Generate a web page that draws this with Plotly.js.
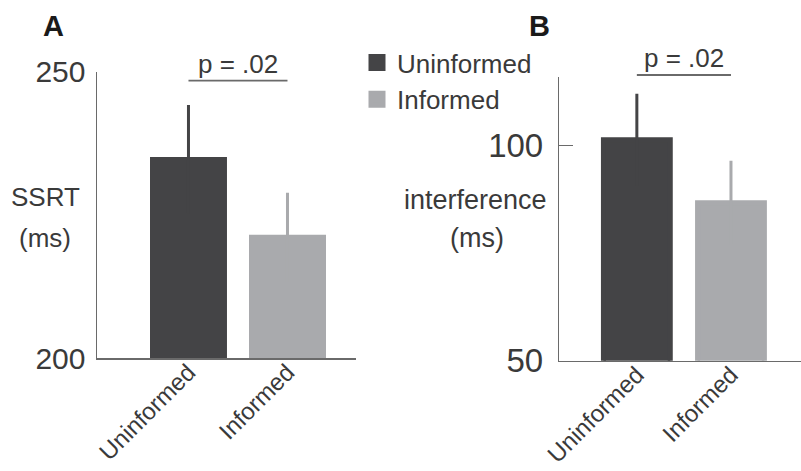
<!DOCTYPE html>
<html><head><meta charset="utf-8">
<script src="https://cdn.plot.ly/plotly-3.0.1.min.js"></script>
<style>html,body{margin:0;padding:0;background:#fff}#chart{width:801px;height:471px}</style>
</head><body><div id="chart"></div>
<script>
// ---- data ----
const categories = ['Uninformed', 'Informed'];
const ssrtMeans = [234.7, 221.1];
const ssrtErrors = [9.5, 7.8];
const interferenceMeans = [101.3, 86.7];
const interferenceErrors = [10.7, 9.7];
const ssrtTicks = [200, 250];
const interferenceTicks = [50, 100];
const pLabel = 'p = .02';

// ---- styles ----
const W = 801, H = 471;
const barColors = ['#444446', '#a9aaad'];
const textColor = '#3a3a3a';
const axisColor = '#6a6a6a';
const FONT = '"Liberation Sans", Arial, Helvetica, sans-serif';
const px = x => x / W;
const py = y => 1 - y / H;

const traces = [];
categories.forEach((c, i) => {
  traces.push({
    type: 'bar', x: [c], y: [ssrtMeans[i]], name: c, legendgroup: c,
    showlegend: true, xaxis: 'x', yaxis: 'y', width: 0.727,
    marker: {color: barColors[i], line: {color: barColors[i], width: 5}},
    error_y: {type: 'data', array: [ssrtErrors[i]], color: barColors[i], thickness: 3, width: 0},
    hoverinfo: 'skip'
  });
  traces.push({
    type: 'bar', x: [c], y: [interferenceMeans[i]], name: c, legendgroup: c,
    showlegend: false, xaxis: 'x2', yaxis: 'y2', width: 0.71,
    marker: {color: barColors[i], line: {color: barColors[i], width: 5}},
    error_y: {type: 'data', array: [interferenceErrors[i]], color: barColors[i], thickness: 3, width: 0},
    hoverinfo: 'skip'
  });
});

const xCommon = {
  type: 'category', categoryorder: 'array', categoryarray: categories,
  showline: true, linecolor: axisColor, linewidth: 1.5, ticks: '',
  showgrid: false, zeroline: false, tickangle: -45, ticklabelstandoff: -11,
  tickfont: {size: 24, color: textColor, family: FONT}
};
const yCommon = {
  showline: true, linecolor: axisColor, linewidth: 1.5,
  ticks: 'inside', tickcolor: axisColor, tickwidth: 1.5,
  showgrid: false, zeroline: false
};

const layout = {
  width: W, height: H,
  margin: {l: 0, r: 0, t: 0, b: 0},
  paper_bgcolor: '#fff', plot_bgcolor: 'rgba(0,0,0,0)',
  font: {family: FONT, color: textColor},
  barmode: 'overlay',
  showlegend: true,
  legend: {
    x: px(357), y: py(39), xanchor: 'left', yanchor: 'top',
    font: {size: 26, color: textColor, family: FONT},
    bgcolor: 'rgba(0,0,0,0)', tracegroupgap: 0
  },
  xaxis: Object.assign({}, xCommon, {domain: [px(97), px(356)], range: [-0.924, 1.692], anchor: 'y'}),
  yaxis: Object.assign({}, yCommon, {domain: [py(358.3), py(71.7)], range: [ssrtTicks[0], ssrtTicks[1]],
    tickvals: ssrtTicks, ticklen: 18, ticklabelstandoff: 4, anchor: 'x',
    tickfont: {size: 30, color: textColor, family: FONT}}),
  xaxis2: Object.assign({}, xCommon, {domain: [px(559.3), 1], range: [-0.824, 1.744], anchor: 'y2'}),
  yaxis2: Object.assign({}, yCommon, {domain: [py(360.7), py(77.3)], range: [interferenceTicks[0], 115.8],
    tickvals: interferenceTicks, ticklen: 14, ticklabelstandoff: 8, anchor: 'x2',
    tickfont: {size: 33, color: textColor, family: FONT}}),
  shapes: [
    {type: 'line', xref: 'x', yref: 'paper', x0: 0, x1: 1, y0: py(80.7), y1: py(80.7),
     line: {color: axisColor, width: 1.8}},
    {type: 'line', xref: 'x2', yref: 'paper', x0: 0, x1: 1, y0: py(75), y1: py(75),
     line: {color: axisColor, width: 1.8}}
  ],
  annotations: [
    {text: '<b>A</b>', xref: 'paper', yref: 'paper', x: px(53.5), y: py(26), showarrow: false,
     xanchor: 'center', yanchor: 'middle', font: {size: 29, color: '#1a1a1a', family: FONT}},
    {text: '<b>B</b>', xref: 'paper', yref: 'paper', x: px(539), y: py(26), showarrow: false,
     xanchor: 'center', yanchor: 'middle', font: {size: 29, color: '#1a1a1a', family: FONT}},
    {text: pLabel, xref: 'x', yref: 'paper', x: 0.5, y: py(64), showarrow: false,
     xanchor: 'center', yanchor: 'middle', font: {size: 26, color: textColor, family: FONT}},
    {text: pLabel, xref: 'x2', yref: 'paper', x: 0.5, y: py(58), showarrow: false,
     xanchor: 'center', yanchor: 'middle', font: {size: 26, color: textColor, family: FONT}},
    {text: 'SSRT', xref: 'paper', yref: 'paper', x: px(45), y: py(197), showarrow: false,
     xanchor: 'center', yanchor: 'middle', font: {size: 26, color: textColor, family: FONT}},
    {text: '(ms)', xref: 'paper', yref: 'paper', x: px(45), y: py(238), showarrow: false,
     xanchor: 'center', yanchor: 'middle', font: {size: 26, color: textColor, family: FONT}},
    {text: 'interference', xref: 'paper', yref: 'paper', x: px(475.5), y: py(200), showarrow: false,
     xanchor: 'center', yanchor: 'middle', font: {size: 27, color: textColor, family: FONT}},
    {text: '(ms)', xref: 'paper', yref: 'paper', x: px(476.5), y: py(238), showarrow: false,
     xanchor: 'center', yanchor: 'middle', font: {size: 27, color: textColor, family: FONT}}
  ]
};

Plotly.newPlot('chart', traces, layout, {staticPlot: true, displayModeBar: false});
</script>
</body></html>
